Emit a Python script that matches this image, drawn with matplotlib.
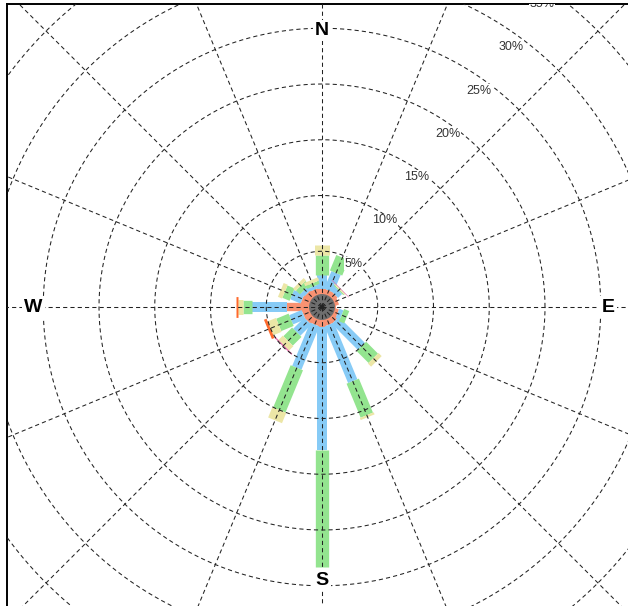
import numpy as np
import matplotlib.pyplot as plt

# wind directions (bearing, degrees clockwise from north)
directions = ['N', 'NNE', 'NE', 'ENE', 'E', 'ESE', 'SE', 'SSE',
              'S', 'SSW', 'SW', 'WSW', 'W', 'WNW', 'NW', 'NNW']
bearings = np.arange(16) * 22.5

# frequency (%) per speed bin, per direction (stacked outward)
bin1 = [1.6, 1.6, 1.6, 1.5, 1.3, 1.5, 1.7, 1.7, 1.8, 1.7, 1.8, 1.8, 3.1, 1.9, 1.8, 1.7]
bin2 = [1.3, 1.7, 0.5, 0.0, 0.0, 0.4, 3.3, 5.5, 11.0, 4.2, 1.4, 1.2, 3.2, 1.0, 0.4, 0.3]
bin3 = [1.8, 1.5, 0.1, 0.0, 0.0, 0.5, 1.5, 3.3, 10.5, 4.1, 1.1, 1.2, 0.8, 0.7, 0.5, 0.3]
bin4 = [0.9, 0.0, 0.1, 0.0, 0.0, 0.0, 0.4, 0.2, 0.0, 1.0, 0.55, 0.8, 0.4, 0.4, 0.3, 0.3]
bin5 = [0.0, 0.0, 0.0, 0.0, 0.0, 0.0, 0.0, 0.0, 0.0, 0.0, 0.0, 0.25, 0.2, 0.0, 0.0, 0.0]
bin6 = [0.0, 0.0, 0.05, 0.0, 0.0, 0.0, 0.0, 0.0, 0.0, 0.0, 0.12, 0.0, 0.0, 0.0, 0.0, 0.0]
bins = [bin1, bin2, bin3, bin4, bin5, bin6]
bin_colors = ['#f99272', '#87cbf6', '#93e48f', '#ece6a6', '#ff6a2c', '#e26aa6']
bin_widths = [6.0, 7.2, 9.6, 10.8, 15.0, 17.5]   # points

calm_radius = 1.1
ring_levels = [5, 10, 15, 20, 25, 30, 35, 40, 45]

fig = plt.figure(figsize=(6.28, 6.06), dpi=100)
W, H = 628, 606
scale = 11.15          # px per percent
cx, cy = 322, 307      # centre in px
ax_px = 700
ax = fig.add_axes([7 / W, 1 - (4 + ax_px) / H, ax_px / W, ax_px / H])
x0 = -(cx - 7) / scale
y1 = (cy - 4) / scale
ax.set_xlim(x0, x0 + ax_px / scale)
ax.set_ylim(y1 - ax_px / scale, y1)
ax.set_xticks([])
ax.set_yticks([])
for s in ['right', 'bottom']:
    ax.spines[s].set_visible(False)
for s in ['left', 'top']:
    ax.spines[s].set_linewidth(1.4)

theta = np.deg2rad(bearings)
sx, sy = np.sin(theta), np.cos(theta)

# stacked bars
start = np.zeros(16)
for vals, col, lw in zip(bins, bin_colors, bin_widths):
    vals = np.asarray(vals)
    end = start + vals
    for i in range(16):
        if vals[i] <= 0:
            continue
        ax.plot([start[i] * sx[i], end[i] * sx[i]], [start[i] * sy[i], end[i] * sy[i]],
                color=col, lw=lw, solid_capstyle='butt', zorder=2)
    start = end

# calm circle
ax.add_patch(plt.Circle((0, 0), calm_radius, color='#6e6e6e', zorder=3))

# grid
grid_kw = dict(color='#222222', lw=0.75, linestyle=(0, (4, 3)), zorder=4)
t = np.linspace(0, 2 * np.pi, 720)
for r in ring_levels:
    ax.plot(r * np.cos(t), r * np.sin(t), **grid_kw)
for i in range(16):
    ax.plot([0, 60 * sx[i]], [0, 60 * sy[i]], **grid_kw)

# ring labels
lab_ang = np.deg2rad(54)
for r in ring_levels[:7]:
    ax.text(0.96 * r * np.cos(lab_ang), 0.96 * r * np.sin(lab_ang), f'{r}%',
            ha='center', va='center', fontsize=9, family='Liberation Sans', color='#333333',
            bbox=dict(fc='white', ec='none', pad=0.5), zorder=5, clip_on=True)

# cardinal labels
card_kw = dict(ha='center', va='center', fontsize=14, fontweight='bold',
               family='Liberation Sans', zorder=6,
               bbox=dict(fc='white', ec='none', pad=1.5))
ax.text(0, 24.8, 'N', **card_kw)
ax.text(0, -24.5, 'S', **card_kw)
ax.text(25.65, 0, 'E', **card_kw)
ax.text(-25.9, 0, 'W', **card_kw)

fig.savefig('out.png', dpi=100)
